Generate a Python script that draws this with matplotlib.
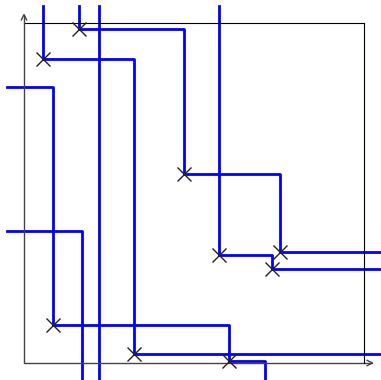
import matplotlib
matplotlib.use('Agg')
import matplotlib.pyplot as plt
from mpl_toolkits import axisartist

# Staircase paths (steps-post), values in axes data units 0..1
lo, hi = -0.05, 1.05

p1_x = [0.163, 0.163, 0.471, 0.753, hi]
p1_y = [hi, 0.983, 0.556, 0.326, 0.326]

p2_x = [0.057, 0.057, 0.324, hi]
p2_y = [hi, 0.894, 0.027, 0.027]

p3_x = [0.574, 0.574, 0.729, hi]
p3_y = [hi, 0.318, 0.276, 0.276]

p4_x = [lo, 0.084, 0.603, 0.709, 0.709]
p4_y = [0.811, 0.113, 0.005, lo, lo]

p5_x = [lo, 0.171, 0.171]
p5_y = [0.389, lo, lo]

p6_x = [0.221, 0.221]
p6_y = [hi, lo]

# Marked points
pts_x = [0.163, 0.057, 0.471, 0.574, 0.753, 0.729, 0.084, 0.324, 0.603]
pts_y = [0.983, 0.894, 0.556, 0.318, 0.326, 0.276, 0.113, 0.027, 0.005]

fig = plt.figure(figsize=(3.81, 3.80), dpi=100)
ax = fig.add_axes([24 / 381, 17 / 380, 340 / 381, 340 / 380], axes_class=axisartist.Axes)

for side in ['left', 'right', 'top', 'bottom']:
    ax.axis[side].toggle(ticks=False, ticklabels=False, label=False)
ax.axis['left'].set_axisline_style('->')
ax.axis['bottom'].set_axisline_style('->')
ax.axis['left'].line.set_color('#444444')
ax.axis['bottom'].line.set_color('#444444')

for xs, ys in [(p1_x, p1_y), (p2_x, p2_y), (p3_x, p3_y),
               (p4_x, p4_y), (p5_x, p5_y), (p6_x, p6_y)]:
    ax.plot(xs, ys, color='b', lw=2, drawstyle='steps-post', clip_on=False)

ax.plot(pts_x, pts_y, 'x', color='#222222', ms=10, mew=1.0, clip_on=False, zorder=3)

ax.set_xlim(0, 1)
ax.set_ylim(0, 1)

fig.savefig('out.png', dpi=100)
